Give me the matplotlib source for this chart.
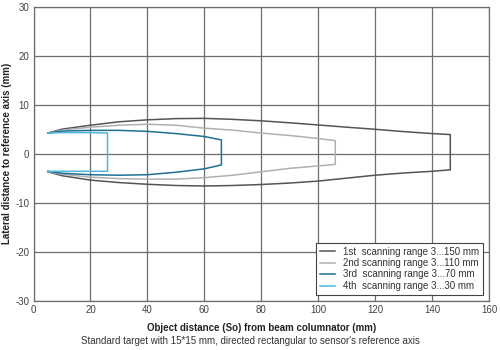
"""Detection ranges of the four scanning ranges (lateral vs object distance)
"""
import matplotlib
matplotlib.use("Agg")
import matplotlib.pyplot as plt

plt.rcParams['font.family'] = ['Liberation Sans', 'DejaVu Sans']
plt.rcParams['axes.unicode_minus'] = False

# 1st scanning range 3...150 mm
r1_x = [5, 10, 20, 30, 40, 50, 60, 70, 80, 90, 100, 110, 120, 130, 140, 146.4]
r1_top = [4.2, 5.0, 5.8, 6.5, 6.9, 7.15, 7.2, 7.0, 6.7, 6.3, 5.85, 5.4, 4.97, 4.5, 4.1, 3.9]
r1_bot = [-3.7, -4.5, -5.4, -5.9, -6.25, -6.5, -6.6, -6.5, -6.3, -6.0, -5.6, -5.0, -4.4, -3.95, -3.6, -3.3]

# 2nd scanning range 3...110 mm
r2_x = [5, 10, 20, 30, 40, 50, 60, 70, 80, 90, 100, 106]
r2_top = [4.2, 4.8, 5.4, 5.8, 6.0, 5.8, 5.2, 4.8, 4.2, 3.7, 3.1, 2.65]
r2_bot = [-3.7, -4.2, -4.8, -5.1, -5.2, -5.2, -4.9, -4.4, -3.7, -3.0, -2.5, -2.2]

# 3rd scanning range 3...70 mm
r3_x = [5, 10, 20, 30, 40, 50, 60, 66]
r3_top = [4.2, 4.6, 4.75, 4.75, 4.55, 4.1, 3.5, 2.8]
r3_bot = [-3.6, -4.0, -4.3, -4.4, -4.3, -3.8, -3.1, -2.3]

# 4th scanning range 3...30 mm
r4_x = [5, 10, 20, 26]
r4_top = [4.2, 4.3, 4.3, 4.2]
r4_bot = [-3.6, -3.6, -3.6, -3.6]

labels = [
    "1st  scanning range 3...150 mm",
    "2nd scanning range 3...110 mm",
    "3rd  scanning range 3...70 mm",
    "4th  scanning range 3...30 mm",
]
colors = ["#555555", "#b0b0b0", "#1f6f93", "#4db6d6"]

x_ticks = [0, 20, 40, 60, 80, 100, 120, 140, 160]
y_ticks = [-30, -20, -10, 0, 10, 20, 30]

fig = plt.figure(figsize=(5, 3.5), dpi=100)
ax = fig.add_axes([0.067, 0.141, 0.911, 0.840])

ranges = [(r1_x, r1_top, r1_bot), (r2_x, r2_top, r2_bot),
          (r3_x, r3_top, r3_bot), (r4_x, r4_top, r4_bot)]

for (xs, top, bot), col, lab in zip(ranges, colors, labels):
    # top edge out, vertical at far end, bottom edge back
    xx = list(xs) + list(xs[::-1])
    yy = list(top) + list(bot[::-1])
    ax.plot(xx, yy, color=col, linewidth=1.1, label=lab, zorder=3)

ax.set_xlim(0, 160)
ax.set_ylim(-30, 30)
ax.set_xticks(x_ticks)
ax.set_yticks(y_ticks)
ax.grid(True, color="#6e6e6e", linewidth=0.9)
ax.set_axisbelow(True)
for sp in ax.spines.values():
    sp.set_color("#6e6e6e")
    sp.set_linewidth(0.9)
ax.tick_params(length=0, labelsize=7, labelcolor="#444444", pad=3)

ax.set_ylabel("Lateral distance to reference axis (mm)", fontsize=7,
              fontweight="bold", color="#222222")
ax.yaxis.set_label_coords(-0.047, 0.5)
ax.set_xlabel("Object distance (So) from beam columnator (mm)", fontsize=7,
              fontweight="bold", color="#222222", labelpad=6)
fig.text(0.5, 0.026,
         "Standard target with 15*15 mm, directed rectangular to sensor's reference axis",
         ha="center", va="center", fontsize=7, color="#333333")

leg = ax.legend(loc="lower right", fontsize=7, frameon=True, fancybox=False,
                edgecolor="#444444", framealpha=1, borderpad=0.4,
                handlelength=1.6, labelspacing=0.15, borderaxespad=0.6)
leg.get_frame().set_linewidth(0.8)
for t in leg.get_texts():
    t.set_color("#333333")

plt.savefig("out.png")
plt.close()
